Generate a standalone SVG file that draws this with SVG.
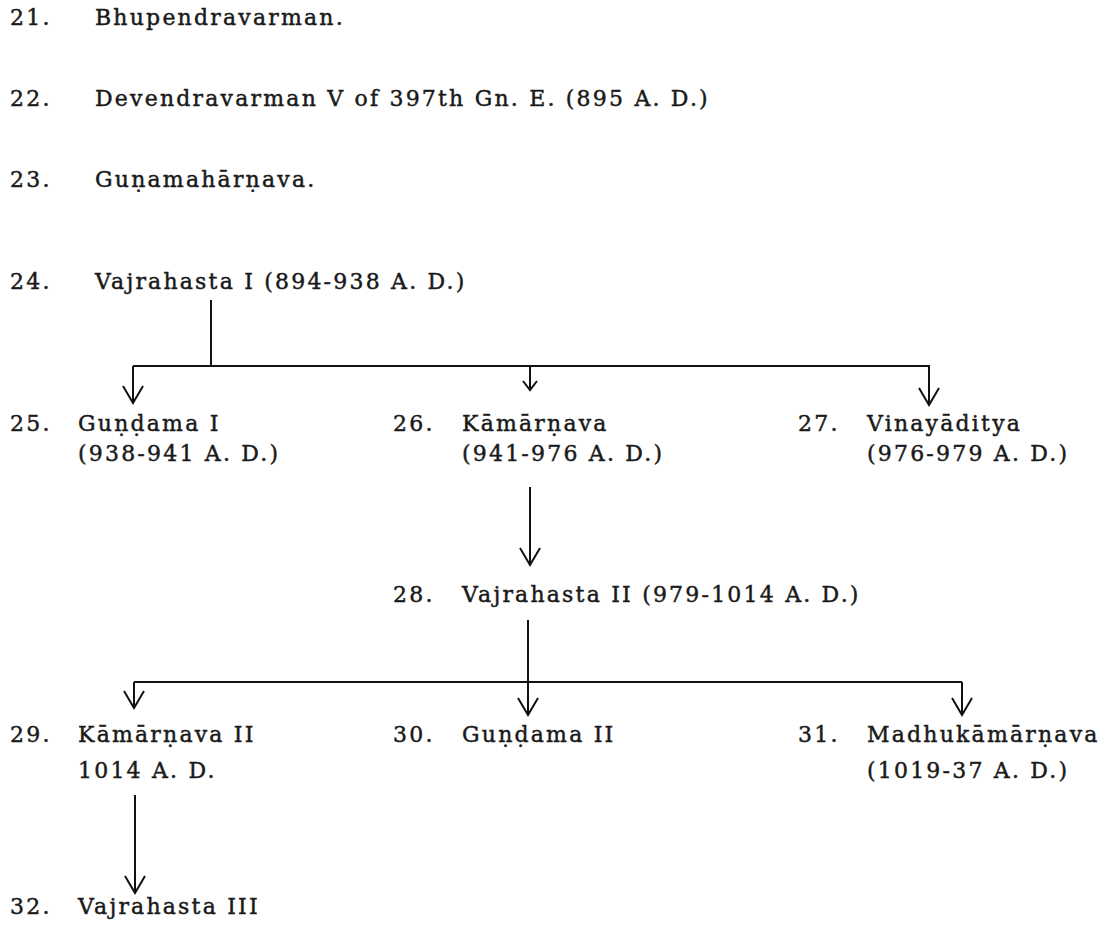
<svg xmlns="http://www.w3.org/2000/svg" width="1117" height="929" viewBox="0 0 1117 929">
<style>
  text { font-family: "DejaVu Serif", "Liberation Serif", serif; font-size: 22px; letter-spacing: 2.2px; fill: #1a1a1a; stroke: #1a1a1a; stroke-width: 0.45px; }
  .conn { stroke: #111; stroke-width: 2; fill: none; }
</style>
<defs>
  <marker id="chev" markerUnits="userSpaceOnUse" markerWidth="30" markerHeight="30" refX="0" refY="0" orient="auto" viewBox="-20 -15 24 30" overflow="visible">
    <path d="M-17,-10 L0,0 L-17,10" fill="none" stroke="#111" stroke-width="2"/>
  </marker>
  <marker id="chevS" markerUnits="userSpaceOnUse" markerWidth="20" markerHeight="20" refX="0" refY="0" orient="auto" viewBox="-12 -10 16 20" overflow="visible">
    <path d="M-9,-7 L0,0 L-9,7" fill="none" stroke="#111" stroke-width="2"/>
  </marker>
</defs>
<rect width="1117" height="929" fill="#ffffff"/>

<g id="connectors">
  <path class="conn" d="M211,300 V366"/>
  <path class="conn" d="M133,366 H930"/>
  <path class="conn" d="M133,366 V403" marker-end="url(#chev)"/>
  <path class="conn" d="M530,366 V390" marker-end="url(#chevS)"/>
  <path class="conn" d="M929,366 V405" marker-end="url(#chev)"/>
  <path class="conn" d="M530,487 V565" marker-end="url(#chev)"/>
  <path class="conn" d="M528,620 V715" marker-end="url(#chev)"/>
  <path class="conn" d="M134,682 H962"/>
  <path class="conn" d="M134,682 V708" marker-end="url(#chev)"/>
  <path class="conn" d="M962,682 V715" marker-end="url(#chev)"/>
  <path class="conn" d="M135,795 V893" marker-end="url(#chev)"/>
</g>

<g id="n21">
  <text x="10" y="25">21.</text>
  <text x="95" y="25">Bhupendravarman.</text>
</g>
<g id="n22">
  <text x="10" y="106">22.</text>
  <text x="95" y="106">Devendravarman V of 397th Gn. E. (895 A. D.)</text>
</g>
<g id="n23">
  <text x="10" y="187">23.</text>
  <text x="95" y="187">Guṇamahārṇava.</text>
</g>
<g id="n24">
  <text x="10" y="289">24.</text>
  <text x="95" y="289">Vajrahasta I (894-938 A. D.)</text>
</g>
<g id="n25">
  <text x="10" y="431">25.</text>
  <text x="78" y="431">Guṇḍama I</text>
  <text x="78" y="461">(938-941 A. D.)</text>
</g>
<g id="n26">
  <text x="393" y="431">26.</text>
  <text x="462" y="431">Kāmārṇava</text>
  <text x="462" y="461">(941-976 A. D.)</text>
</g>
<g id="n27">
  <text x="798" y="431">27.</text>
  <text x="867" y="431">Vinayāditya</text>
  <text x="867" y="461">(976-979 A. D.)</text>
</g>
<g id="n28">
  <text x="393" y="602">28.</text>
  <text x="462" y="602">Vajrahasta II (979-1014 A. D.)</text>
</g>
<g id="n29">
  <text x="10" y="742">29.</text>
  <text x="78" y="742">Kāmārṇava II</text>
  <text x="78" y="778">1014 A. D.</text>
</g>
<g id="n30">
  <text x="393" y="742">30.</text>
  <text x="462" y="742">Guṇḍama II</text>
</g>
<g id="n31">
  <text x="798" y="742">31.</text>
  <text x="867" y="742">Madhukāmārṇava</text>
  <text x="867" y="778">(1019-37 A. D.)</text>
</g>
<g id="n32">
  <text x="10" y="914">32.</text>
  <text x="78" y="914">Vajrahasta III</text>
</g>
</svg>
